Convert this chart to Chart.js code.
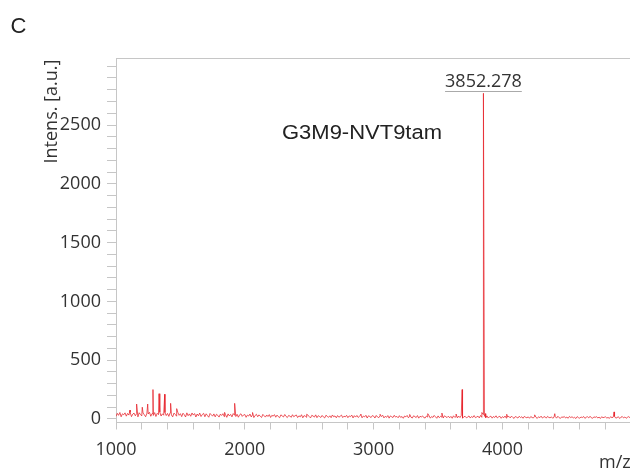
<!DOCTYPE html>
<html>
<head>
<meta charset="utf-8">
<script src="https://cdn.jsdelivr.net/npm/chart.js@4.4.0/dist/chart.umd.min.js"></script>
<style>
  html, body { margin: 0; padding: 0; background: #fff; }
  #wrap { width: 630px; height: 468px; position: relative; }
</style>
</head>
<body>
<div id="wrap"><canvas id="ms" width="630" height="468"></canvas></div>
<script>
// MALDI spectrum, sampled every 10 Da from m/z 1000
var MZ_START = 1000;
var MZ_STEP = 10;
var baseline = [
  22,48,31,55,19,44,36,52,24,47,33,56,20,41,50,27,45,18,53,38,
  26,51,35,19,49,42,57,23,46,30,54,21,48,37,58,25,44,32,55,29,
  47,22,53,34,18,50,39,24,56,31,45,20,49,36,17,52,28,43,23,51,
  33,46,17,42,27,50,21,38,48,19,44,29,15,47,35,24,43,18,40,31,
  16,41,30,45,20,37,14,43,26,39,18,46,32,21,40,15,36,44,22,34,
  38,14,33,25,42,17,36,12,30,40,19,35,23,13,39,27,16,34,21,37,
  13,31,24,37,15,33,20,11,35,26,17,38,22,12,30,25,14,36,19,28,
  34,12,27,18,36,10,29,23,14,33,20,9,31,25,16,35,11,28,21,13,
  30,17,9,32,22,14,27,11,34,19,26,10,29,15,23,33,12,24,18,31,
  11,26,20,33,9,28,16,30,13,22,35,10,25,18,31,8,27,21,12,29,
  24,8,30,17,11,27,20,32,9,23,14,29,7,26,19,12,31,16,22,10,
  28,13,21,6,25,18,30,10,24,15,8,27,20,12,29,7,23,17,26,11,
  9,25,16,28,7,21,13,30,18,6,26,11,23,15,8,27,19,12,24,10,
  22,6,27,14,20,9,25,12,28,7,18,23,10,16,26,8,21,13,29,11,
  17,24,9,30,14,38,22,11,26,8,19,24,7,21,13,27,9,18,23,6,
  20,11,25,7,17,22,9,24,13,5,21,15,8,23,12,19,6,22,14,10,
  18,6,21,12,9,23,14,5,19,11,24,8,16,20,7,22,13,10,18,6,
  15,20,7,23,11,5,18,13,21,8,16,6,22,12,19,9,14,4,20,11,
  7,17,12,21,5,15,19,9,23,10,6,18,13,20,8,16,4,19,11,14,
  18,8,13,5,20,10,16,22,7,12,19,4,15,21,9,17,6,14,20,10
];
var peakMz = [1109, 1160, 1204, 1246, 1287, 1334, 1378, 1424, 1471, 1843, 1921, 2060,
              2480, 2900, 3050, 3280, 3420, 3530, 3640, 3687, 3840, 3852.278, 3868,
              4033, 4250, 4406, 4866];
var peakIntensity = [75, 127, 100, 127, 250, 215, 210, 133, 88, 56, 133, 55,
                     40, 42, 40, 38, 45, 50, 42, 250, 55, 2770, 45,
                     40, 35, 45, 60];
var xTickLabels = ['1000', '2000', '3000', '4000'];
var yTickLabels = ['0', '500', '1000', '1500', '2000', '2500'];
var sampleName = 'G3M9-NVT9tam';

var AXIS = '#c6c6c6';
var TEXT = '#333333';

// merge baseline and peak apexes into one trace
var points = baseline.map(function (v, i) { return { x: MZ_START + i * MZ_STEP, y: v }; });
peakMz.forEach(function (m, k) { points.push({ x: m, y: peakIntensity[k] }); });
points.sort(function (a, b) { return a.x - b.x; });

// tallest peak gets the m/z annotation
var apex = 0;
peakIntensity.forEach(function (v, k) { if (v > peakIntensity[apex]) apex = k; });

// major + minor tick marks
function stepTicks(from, to, step) {
  return function (scale) {
    var t = [];
    for (var v = from; v <= to; v += step) t.push({ value: v });
    scale.ticks = t;
  };
}

var annotations = {
  id: 'annotations',
  afterDraw: function (chart) {
    var ctx = chart.ctx, a = chart.chartArea;
    var xs = chart.scales.x, ys = chart.scales.y;
    ctx.save();

    // upper frame line
    ctx.strokeStyle = AXIS;
    ctx.lineWidth = 1;
    ctx.beginPath();
    ctx.moveTo(a.left, Math.round(a.top) + 0.5);
    ctx.lineTo(a.right, Math.round(a.top) + 0.5);
    ctx.stroke();

    ctx.fillStyle = '#222';
    ctx.textBaseline = 'alphabetic';
    ctx.textAlign = 'left';
    ctx.font = '22px "Liberation Sans", Arial, sans-serif';
    ctx.fillText('C', 10.5, 33);

    // sample name
    ctx.save();
    ctx.font = '19.5px "Liberation Sans", Arial, sans-serif';
    var tw = ctx.measureText(sampleName).width;
    ctx.translate(282, 139);
    ctx.scale(160 / tw, 1);
    ctx.fillText(sampleName, 0, 0);
    ctx.restore();

    // peak label with underline
    var px = xs.getPixelForValue(peakMz[apex]);
    var py = ys.getPixelForValue(peakIntensity[apex]);
    var lbl = peakMz[apex].toFixed(3);
    ctx.font = '18px "Open Sans", sans-serif';
    ctx.fillStyle = TEXT;
    ctx.textAlign = 'center';
    ctx.fillText(lbl, px, py - 6);
    var lw = ctx.measureText(lbl).width;
    ctx.strokeStyle = '#aaaaaa';
    ctx.beginPath();
    ctx.moveTo(px - lw / 2, Math.round(py) - 1.5);
    ctx.lineTo(px + lw / 2, Math.round(py) - 1.5);
    ctx.stroke();

    // axis titles
    ctx.textAlign = 'left';
    ctx.save();
    ctx.translate(57, 163.5);
    ctx.rotate(-Math.PI / 2);
    ctx.fillText('Intens. [a.u.]', 0, 0);
    ctx.restore();
    ctx.fillText('m/z', 599, 468);

    ctx.restore();
  }
};

Chart.defaults.font.family = '"Open Sans", sans-serif';
Chart.defaults.color = TEXT;

new Chart(document.getElementById('ms'), {
  type: 'line',
  data: {
    datasets: [{
      data: points,
      borderColor: 'rgba(230, 34, 42, 0.85)',
      borderWidth: 0.9,
      pointRadius: 0,
      tension: 0,
      fill: false
    }]
  },
  options: {
    responsive: false,
    animation: false,
    events: [],
    layout: { padding: { left: 0, right: 0, top: 58, bottom: 0 } },
    plugins: { legend: { display: false }, tooltip: { enabled: false } },
    scales: {
      x: {
        type: 'linear',
        min: 1000,
        max: 4990,
        afterBuildTicks: stepTicks(1000, 4800, 200),
        afterFit: function (s) { s.height = 45.5; },
        border: { color: AXIS, width: 1 },
        grid: { drawOnChartArea: false, drawTicks: true, tickLength: 7, color: AXIS },
        ticks: {
          autoSkip: false,
          maxRotation: 0,
          padding: 10,
          font: { size: 18 },
          callback: function (v) { return xTickLabels.indexOf(String(v)) >= 0 ? String(v) : ''; }
        }
      },
      y: {
        type: 'linear',
        min: -30,
        max: 3070,
        afterBuildTicks: stepTicks(0, 3000, 100),
        afterFit: function (s) { s.width = 116; },
        border: { color: AXIS, width: 1 },
        grid: { drawOnChartArea: false, drawTicks: true, tickLength: 9, color: AXIS },
        ticks: {
          autoSkip: false,
          padding: 6,
          font: { size: 18 },
          callback: function (v) { return yTickLabels.indexOf(String(v)) >= 0 ? String(v) : ''; }
        }
      }
    }
  },
  plugins: [annotations]
});
</script>
</body>
</html>
